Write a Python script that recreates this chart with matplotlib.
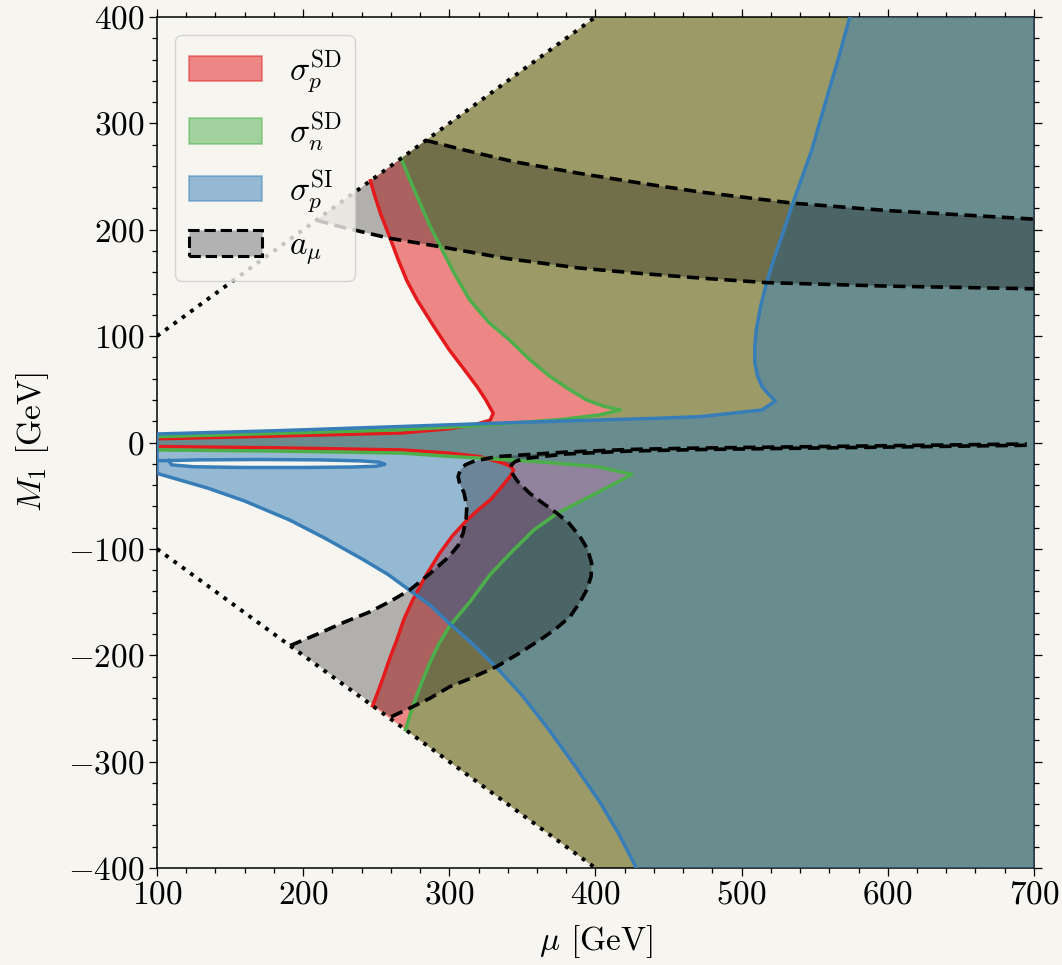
import numpy as np
import matplotlib
matplotlib.use("Agg")
import matplotlib.pyplot as plt
from matplotlib.path import Path
from matplotlib.patches import PathPatch, Patch

plt.rcParams['font.family'] = 'serif'
plt.rcParams['font.serif'] = ['cmr10']
plt.rcParams['mathtext.fontset'] = 'cm'
plt.rcParams['axes.formatter.use_mathtext'] = True
plt.rcParams['axes.unicode_minus'] = True

# axis range
xlim = [100, 700]
ylim = [-400, 400]

# boundary of the kinematically allowed wedge |M1| < mu
wedge_x = np.array([100, 400])

# sigma_p^SD excluded region boundary
red_x = [246, 249, 253, 259, 265, 271, 278, 289, 300, 310, 319, 325, 330, 328, 318, 300, 268, 180, 100,
         100, 180, 268, 300, 321, 337, 342, 344, 341.5, 335, 328, 320, 312, 302, 293, 284, 275,
         269, 264, 259, 255, 251, 247.5]
red_y = [246, 232, 215, 194, 172, 152, 134, 110, 87, 69, 52.5, 40, 27.5, 21, 17, 13, 9, 6, 3.5,
         -3.8, -5, -7, -10, -13.3, -19.5, -22.5, -26, -32, -43, -54, -63, -73, -88, -105, -125, -148,
         -166, -186, -204, -220, -235, -247.5]

# sigma_n^SD
green_x = [267, 273, 280, 287, 294, 303, 314, 327, 341.5, 355, 369, 382, 394, 406, 417,
           403, 376, 320, 268, 180, 100,
           100, 180, 268, 300, 337, 360, 401, 425,
           400, 374, 358, 344, 328, 314, 306, 300, 293, 287, 281, 275, 270]
green_y = [267, 247, 225, 203, 184, 160, 134, 113, 96, 78, 62, 50, 40, 34, 30.6,
           26, 21.5, 16, 12, 8.5, 5.5,
           -7, -8, -10, -13, -16, -18, -22.7, -30,
           -48, -66.5, -82, -101, -124, -150, -163, -173, -189, -206, -226, -248, -270]

# sigma_p^SI
blue_x = [574, 566, 557, 548, 541, 535, 529, 522, 517, 513, 510, 509, 509, 511, 514, 518, 523,
          514, 471.5, 443, 350, 266, 180, 100,
          100, 115, 135, 160, 191, 215, 241, 258, 273, 287, 300, 314, 332, 350, 366.5, 385,
          403, 416, 428]
blue_y = [400, 360, 318, 275, 248, 225, 200, 172, 150, 128, 106, 90, 75, 62, 52.5, 46, 39,
          30.6, 24.3, 22.8, 19, 15, 11, 8,
          -29, -35, -43, -55, -73, -90, -110, -124, -139, -153, -170, -187, -211, -238, -267, -302,
          -338, -368, -400]

# hole inside the sigma_p^SI region
hole_x = [108, 130, 170, 210, 240, 252, 256, 250, 235, 200, 160, 125, 110]
hole_y = [-17, -16.3, -16, -16.3, -17.3, -18.5, -20.5, -22.3, -23, -23.5, -23.5, -22.8, -21]

# a_mu band (upper)
amu_top_x = [284, 310, 344, 389, 430, 471.5, 535, 600, 650, 700]
amu_top_y = [284, 275, 264, 253, 244, 235.5, 225, 218, 214, 210]
amu_bot_x = [209, 225, 259, 294, 339, 389, 430, 471.5, 517, 600, 700]
amu_bot_y = [209, 203, 192, 184, 173, 164, 159, 154.6, 150.3, 147, 144.5]

# a_mu region (lower)
amu_left_x = [191, 210, 228, 246, 260, 273, 287, 300, 306, 309.5, 311.5, 312, 310, 307, 306,
              307.5, 311, 316, 321, 332.4]
amu_left_y = [-191, -180, -169, -159, -149, -138.6, -123, -107, -97, -85, -72, -60, -47, -38, -32,
              -26, -21, -18, -16.4, -13.3]
amu_hi_x = [332.4, 380, 424, 471.5, 600, 695]
amu_hi_y = [-13.3, -9, -6.5, -5.2, -3, -1.4]
amu_lo_x = [695, 600, 471.5, 424, 380, 355]
amu_lo_y = [-2.6, -4.3, -6.6, -8, -10.8, -14.5]
amu_right_x = [350, 345, 342.5, 342, 343.5, 347, 355, 364, 373.6, 382, 389.4, 394.5, 397.4, 397,
               394, 389, 382.6, 373, 362, 348, 332.3, 314, 300.4, 286.8, 274, 260]
amu_right_y = [-15.5, -18, -21, -25, -30, -37, -47.7, -57, -66.5, -76, -88.5, -100, -113.5, -126,
               -138.6, -151, -163.7, -175, -185.6, -198, -210.7, -222, -229.5, -240.4, -249, -258]

bg = '#f6f5f0'
c_red = '#e41a1c'
c_green = '#4daf4a'
c_blue = '#377eb8'

fig = plt.figure(figsize=(10.62, 9.65), dpi=100, facecolor=bg)
ax = fig.add_axes([0.1478, 0.1005, 0.8258, 0.8819], facecolor=bg)

xmax = xlim[1]
# red and green: close along the wedge edges
ax.fill(red_x + [xmax, xmax], red_y + [-xmax, xmax], color=c_red, alpha=0.5, lw=0, zorder=1)
ax.fill(green_x + [xmax, xmax], green_y + [-xmax, xmax], color=c_green, alpha=0.5, lw=0, zorder=2)


def ring(xs, ys):
    p = np.column_stack([xs, ys])
    return np.vstack([p, p[:1]])


def area(p):
    return 0.5 * np.sum(p[:, 0] * np.roll(p[:, 1], -1) - np.roll(p[:, 0], -1) * p[:, 1])


# blue with hole
outer = ring(blue_x + [xlim[1], xlim[1]], blue_y + [ylim[0], ylim[1]])
hole = ring(hole_x, hole_y)
if np.sign(area(outer)) == np.sign(area(hole)):
    hole = hole[::-1]
path = Path.make_compound_path(Path(outer, closed=True), Path(hole, closed=True))
ax.add_patch(PathPatch(path, facecolor=c_blue, alpha=0.5, lw=0, zorder=3))

# a_mu fills
ax.fill(amu_top_x + amu_bot_x[::-1], amu_top_y + amu_bot_y[::-1], color='k', alpha=0.28, lw=0, zorder=4)
lx = amu_left_x + amu_hi_x + amu_lo_x + amu_right_x
ly = amu_left_y + amu_hi_y + amu_lo_y + amu_right_y
ax.fill(lx, ly, color='k', alpha=0.28, lw=0, zorder=4)

# boundary lines
lw = 2.5
ax.plot(red_x, red_y, color=c_red, lw=lw, zorder=5)
ax.plot(green_x, green_y, color=c_green, lw=lw, zorder=5)
ax.plot(blue_x, blue_y, color=c_blue, lw=lw, zorder=5)
ax.plot([100] + hole_x + [hole_x[0]], [hole_y[0]] + hole_y + [hole_y[0]], color=c_blue, lw=lw, zorder=5)

dkw = dict(color='k', lw=2.6, linestyle=(0, (3.4, 1.8)), zorder=6)
ax.plot(amu_top_x, amu_top_y, **dkw)
ax.plot(amu_bot_x, amu_bot_y, **dkw)
ax.plot(amu_left_x + amu_hi_x, amu_left_y + amu_hi_y, **dkw)
ax.plot(amu_lo_x + amu_right_x, amu_lo_y + amu_right_y, **dkw)

ax.plot(wedge_x, wedge_x, color='k', lw=2.8, linestyle=':', zorder=7)
ax.plot(wedge_x, -wedge_x, color='k', lw=2.8, linestyle=':', zorder=7)

ax.set_xlim(xlim)
ax.set_ylim(ylim)
ax.set_xticks(np.arange(100, 701, 100))
ax.set_yticks(np.arange(-400, 401, 100))
ax.set_xticks(np.arange(100, 701, 20), minor=True)
ax.set_yticks(np.arange(-400, 401, 20), minor=True)
ax.tick_params(which='both', direction='out', top=True, right=True, labelsize=24, width=0.9)
ax.tick_params(which='major', length=6, pad=3)
ax.tick_params(which='minor', length=3.4)
for s in ax.spines.values():
    s.set_linewidth(1.1)

ax.set_xlabel(r'$\mu$ [GeV]', fontsize=24, labelpad=10)
ax.set_ylabel(r'$M_1$ [GeV]', fontsize=24, labelpad=12)

handles = [
    Patch(facecolor=c_red, alpha=0.5, edgecolor=c_red, lw=1.2),
    Patch(facecolor=c_green, alpha=0.5, edgecolor=c_green, lw=1.2),
    Patch(facecolor=c_blue, alpha=0.5, edgecolor=c_blue, lw=1.2),
    Patch(facecolor='#b2b2b2', edgecolor='k', lw=2.2, linestyle='--'),
]
labels = [r'$\sigma_p^{\rm SD}$', r'$\sigma_n^{\rm SD}$', r'$\sigma_p^{\rm SI}$', r'$a_\mu$']
leg = ax.legend(handles, labels, loc='upper left', fontsize=24, handlelength=2.2,
                handleheight=0.8, labelspacing=0.45, borderaxespad=0.55,
                facecolor=bg, edgecolor='#cccccc', framealpha=0.8)
leg.set_zorder(10)

fig.savefig('out.png', dpi=100, facecolor=bg)
